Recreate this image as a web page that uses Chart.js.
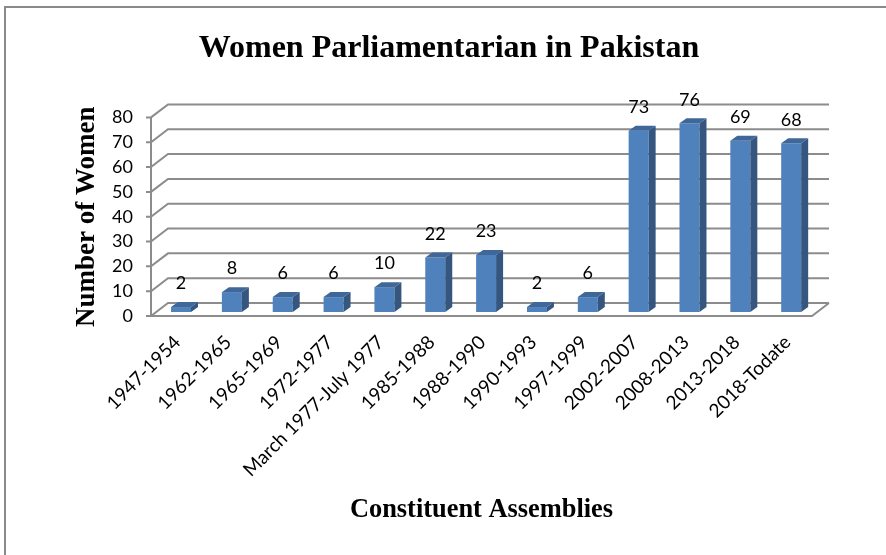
<!DOCTYPE html>
<html><head><meta charset="utf-8">
<style>html,body{margin:0;padding:0;background:#fff}canvas{display:block}</style>
<script src="https://cdn.jsdelivr.net/npm/chart.js@4"></script>
</head><body><canvas id="c" width="886" height="555"></canvas>
<script>
const categories = ["1947-1954","1962-1965","1965-1969","1972-1977","March 1977-July 1977","1985-1988","1988-1990","1990-1993","1997-1999","2002-2007","2008-2013","2013-2018","2018-Todate"];
const women = [2,8,6,6,10,22,23,2,6,73,76,69,68];
const yTicks = [0,10,20,30,40,50,60,70,80];
const titleText = "Women Parliamentarian in Pakistan";
const xTitleText = "Constituent Assemblies";
const yTitleText = "Number of Women";

const WALL_DX = 17, WALL_DY = -13, BAR_DX = 4.6, BAR_DY = -4, SIDE_DX = 7, SIDE_DY = -5;
const GRID = '#8c8c8c';

const frame = {
  id:'frame',
  beforeDraw(chart){
    const c = chart.ctx;
    c.save();
    c.strokeStyle = '#8a8a8a'; c.lineWidth = 2;
    c.beginPath(); c.moveTo(5,555); c.lineTo(5,7); c.lineTo(886,7); c.stroke();
    c.restore();
  }
};
const walls = {
  id:'walls',
  beforeDatasetsDraw(chart){
    const c = chart.ctx, y = chart.scales.y, a = chart.chartArea;
    c.save();
    c.strokeStyle = GRID; c.lineWidth = 2;
    yTicks.forEach(v=>{
      const p = y.getPixelForValue(v);
      c.beginPath();
      c.moveTo(a.left-5,p); c.lineTo(a.left,p);
      c.lineTo(a.left+WALL_DX,p+WALL_DY); c.lineTo(a.right+WALL_DX,p+WALL_DY);
      c.stroke();
    });
    const p0 = y.getPixelForValue(0), p1 = y.getPixelForValue(80);
    c.beginPath(); c.moveTo(a.left,p1); c.lineTo(a.left,p0); c.lineTo(a.right,p0); c.lineTo(a.right+WALL_DX,p0+WALL_DY); c.stroke();
    c.restore();
    chart.ctx.save();
    chart.ctx.translate(BAR_DX,BAR_DY);
  },
  afterDatasetsDraw(chart){
    const c = chart.ctx;
    chart.getDatasetMeta(0).data.forEach((b,i)=>{
      const l = b.x-b.width/2, r = b.x+b.width/2, t = b.y, bt = b.base;
      c.fillStyle = '#34567f';
      c.beginPath(); c.moveTo(r,t); c.lineTo(r+SIDE_DX,t+SIDE_DY); c.lineTo(r+SIDE_DX,bt+SIDE_DY); c.lineTo(r,bt); c.closePath(); c.fill();
      c.fillStyle = '#3f6797';
      c.beginPath(); c.moveTo(l,t); c.lineTo(l+SIDE_DX,t+SIDE_DY); c.lineTo(r+SIDE_DX,t+SIDE_DY); c.lineTo(r,t); c.closePath(); c.fill();
      c.fillStyle = '#000'; c.font = '18px Lato'; c.textAlign='center'; c.textBaseline='middle';
      c.fillText(String(women[i]), b.x, t-23.5);
    });
    c.restore();
  }
};
new Chart(document.getElementById('c'),{
  type:'bar',
  data:{labels:categories,datasets:[{data:women,backgroundColor:'#4f81bd',borderWidth:0,barPercentage:0.393,categoryPercentage:1,clip:false}]},
  plugins:[frame,walls],
  options:{
    responsive:false,animation:false,
    layout:{padding:{left:86,right:74,top:30,bottom:29}},
    plugins:{
      legend:{display:false},tooltip:{enabled:false},
      title:{display:true,text:titleText,color:'#000',font:{family:'Liberation Serif',size:32,weight:'bold',lineHeight:1.2},padding:{top:0,bottom:49}}
    },
    scales:{
      x:{
        grid:{display:false},border:{display:false},
        afterFit(s){s.height=210;},
        ticks:{maxRotation:45,minRotation:45,autoSkip:false,padding:7,labelOffset:1,color:'#000',font:{family:'Lato',size:19}},
        title:{display:true,text:xTitleText,color:'#000',font:{family:'Liberation Serif',size:26.4,weight:'bold',lineHeight:1.2},padding:0}
      },
      y:{
        min:0,max:80,
        grid:{display:false},border:{display:false},
        afterFit(s){s.width=65;},
        afterBuildTicks(s){s.ticks=yTicks.map(v=>({value:v}));},
        ticks:{padding:10,color:'#000',font:{family:'Lato',size:18}},
        title:{display:true,text:yTitleText,color:'#000',font:{family:'Liberation Serif',size:27,weight:'bold',lineHeight:1.2},padding:{top:-15,bottom:0}}
      }
    }
  }
});
</script></body></html>
